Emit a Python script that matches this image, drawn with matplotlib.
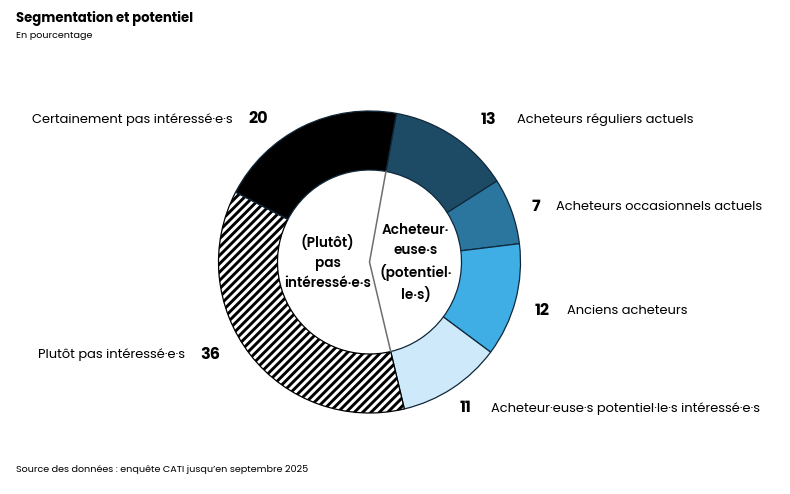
import numpy as np
import matplotlib
matplotlib.use("Agg")
import matplotlib.pyplot as plt

# ---- data ----
categories = ["Acheteurs réguliers actuels", "Acheteurs occasionnels actuels",
              "Anciens acheteurs", "Acheteur·euse·s potentiel·le·s intéressé·e·s",
              "Plutôt pas intéressé·e·s", "Certainement pas intéressé·e·s"]
values = [13, 7, 12, 11, 36, 20]
group_labels = ["Acheteur·\neuse·s\n(potentiel·\nle·s)", "(Plutôt)\npas\nintéressé·e·s"]
n_buyers = 4  # first four categories form the buyers group

# ---- style ----
colors = ["#1d4b66", "#2a769f", "#3eaee5", "#cde9fa", "white", "black"]
FONT = ["Poppins", "Open Sans", "DejaVu Sans"]
plt.rcParams['font.family'] = FONT
plt.rcParams['hatch.linewidth'] = 2.1

W, H = 790, 494
fig = plt.figure(figsize=(W / 100, H / 100), dpi=100)
ax = fig.add_axes([0, 0, 1, 1])

cx, cy = 369.5, H - 262
R, r_in = 151, 92
start_from_top = 10.3  # degrees clockwise from 12 o'clock

wedges, _ = ax.pie(values, colors=colors, radius=R, center=(cx, cy),
                   startangle=90 - start_from_top, counterclock=False,
                   wedgeprops=dict(width=R - r_in, edgecolor="#10283a", linewidth=0.9))
wedges[4].set_hatch("////")
wedges[4].set_edgecolor("black")

ax.set_xlim(0, W)
ax.set_ylim(0, H)
ax.set_aspect("equal")
ax.axis("off")

# dividing line inside the hole
total = sum(values)
a0 = np.radians(start_from_top)
a1 = np.radians(start_from_top + sum(values[:n_buyers]) / total * 360)
ax.plot([cx + r_in * np.sin(a0), cx, cx + r_in * np.sin(a1)],
        [cy + r_in * np.cos(a0), cy, cy + r_in * np.cos(a1)],
        color="#6e6e6e", lw=1.1, zorder=3)

# group labels inside the hole
ax.text(cx + 46, cy - 1, group_labels[0], ha="center", va="center",
        fontsize=9.8, fontweight="semibold", linespacing=1.45)
ax.text(cx - 42, cy - 1, group_labels[1], ha="center", va="center",
        fontsize=9.8, fontweight="semibold", linespacing=1.45)

# outside labels
angle_shift = [6, 1.5, 1, 0, 7.7, -12]
radial = [1.23, 1.16, 1.19, 1.16, 1.22, 1.2]
text_gap = [28, 20, 25, 25, 25, 25]  # px between number centre and category text
cum = np.cumsum([0] + values)
for i, (cat, v) in enumerate(zip(categories, values)):
    mid = start_from_top + (cum[i] + v / 2) / total * 360 + angle_shift[i]
    a = np.radians(mid)
    x = cx + radial[i] * R * np.sin(a)
    y = cy + radial[i] * R * np.cos(a)
    ax.text(x, y, str(v), ha="center", va="center", fontsize=11.5, fontweight="bold")
    side = 1 if np.sin(a) >= 0 else -1
    ax.annotate(cat, (x, y), xytext=(side * text_gap[i] * 0.72, 0), textcoords="offset points",
                ha="left" if side > 0 else "right", va="center", fontsize=9.4)

fig.text(16 / W, 1 - 18 / H, "Segmentation et potentiel", ha="left", va="center",
         fontsize=9.5, fontweight="bold")
fig.text(16 / W, 1 - 35 / H, "En pourcentage", ha="left", va="center", fontsize=6.9)
fig.text(16 / W, 1 - 469 / H, "Source des données : enquête CATI jusqu’en septembre 2025",
         ha="left", va="center", fontsize=6.9)

fig.savefig("out.png", dpi=100)
